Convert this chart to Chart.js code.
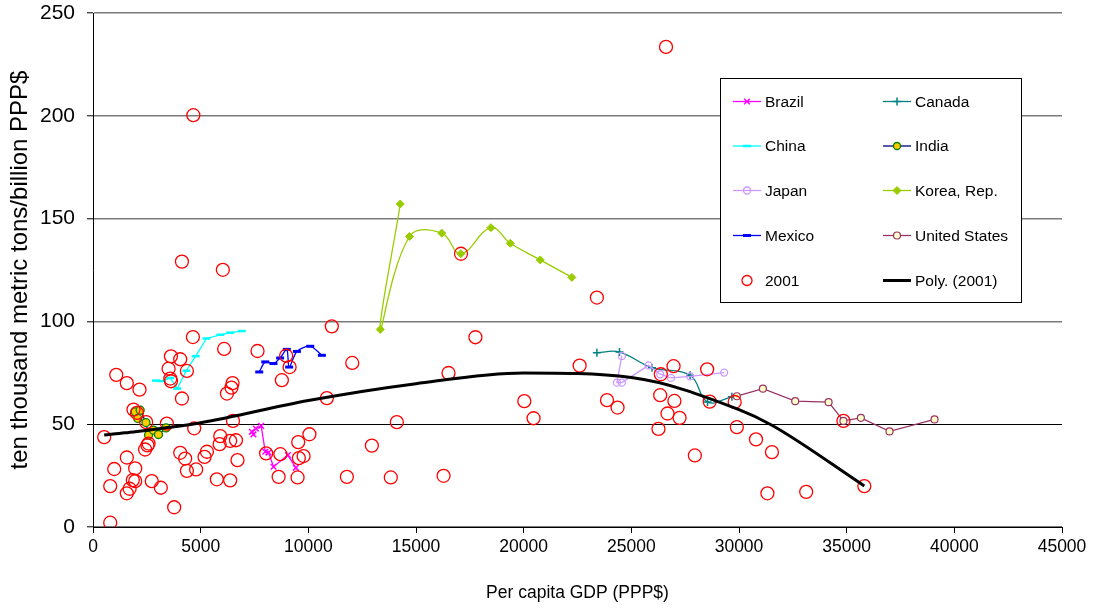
<!DOCTYPE html>
<html>
<head>
<meta charset="utf-8">
<script src="https://cdn.jsdelivr.net/npm/chart.js@4.4.1/dist/chart.umd.min.js"></script>
<style>
  html, body { margin: 0; padding: 0; background: #fff; }
  #wrap { width: 1097px; height: 610px; }
</style>
</head>
<body>
<div id="wrap"><canvas id="c" width="1097" height="610"></canvas></div>
<script>
// Country paths: per capita GDP (PPP$) vs. intensity (ten thousand metric tons / billion PPP$)
const brazilX = [7450, 7380, 7560, 7810, 8000, 8150, 8385, 9050, 9420];
const brazilY = [45, 46.3, 47.9, 49.2, 36.6, 36.2, 29.3, 35, 28.8];

const canadaX = [23400, 24450, 25960, 27730, 28540, 29670];
const canadaY = [84.8, 85.1, 77.5, 73.8, 60.8, 63.3];

const chinaX = [2920, 3200, 3590, 3910, 4330, 4770, 5270, 5910, 6370, 6910];
const chinaY = [71.2, 71, 72.5, 67.3, 76, 83.1, 91.7, 93.5, 94.5, 95.3];

const indiaX = [1960, 2080, 2190, 2460, 2580, 2810, 3040, 3390];
const indiaY = [56, 52.8, 56.8, 50.8, 44.7, 47.1, 45, 48.2];

const japanX = [24560, 24330, 24560, 25800, 26340, 26840, 27730, 29310];
const japanY = [83.2, 70.2, 70.2, 78.6, 74.3, 72.5, 73.3, 75.1];

const koreaX = [14270, 13340, 14700, 16200, 17080, 18480, 19380, 20770, 22240];
const koreaY = [157.1, 96.1, 141.3, 142.9, 132.9, 145.6, 138.0, 129.9, 121.4];

const mexicoX = [7720, 8000, 8380, 8690, 9000, 9110, 9470, 10090, 10630];
const mexicoY = [75.4, 80.3, 79.5, 82.2, 86.4, 77.8, 85.4, 87.9, 83.5];

const usX = [29900, 31110, 32610, 34160, 34850, 35660, 36990, 39080];
const usY = [63.6, 67.3, 61.2, 60.7, 51.6, 53.1, 46.5, 52.3];

// All countries, 2001
const y2001X = [520, 800, 800, 985, 1080, 1570, 1570, 1570, 1700, 1850,
  1960, 1960, 1880, 2040, 2160, 2470, 2530, 2420, 2730, 3150,
  3430, 3510, 3590, 3620, 3620, 3770, 4050, 4050, 4130, 4130,
  4280, 4360, 4360, 4640, 4660, 4700, 4790, 5180, 5290, 5750,
  5880, 5910, 6030, 6090, 6220, 6370, 6370, 6430, 6480, 6500,
  6640, 6710, 7640, 8040, 8620, 8700, 8770, 8970, 9130, 9500,
  9530, 9560, 9780, 10050, 10860, 11090, 11790, 12040, 12950, 13830,
  14110, 16280, 16510, 17090, 17760, 20030, 20460, 22600, 23400, 23870,
  24360, 26260, 26340, 26370, 26610, 26680, 26960, 27000, 27240, 27950,
  28520, 28640, 29800, 29900, 30790, 31320, 31530, 33120, 34850, 35820,
  2580];
const y2001Y = [43.7, 19.9, 2.1, 28.2, 74, 70, 33.8, 16.4, 18.6, 22.8,
  22.3, 28.5, 57.1, 55.5, 66.8, 51, 39.7, 37.7, 22.3, 19.1,
  50.3, 77, 72.2, 70.9, 83, 9.6, 81.6, 36.1, 62.5, 129.1,
  33.3, 75.9, 27.3, 92.4, 200.3, 48, 28, 34.1, 36.6, 23.2,
  40.3, 44.2, 125.1, 86.6, 64.9, 22.7, 41.9, 67.8, 70, 51.6,
  42.2, 32.5, 85.6, 35.8, 24.4, 35.4, 71.4, 83.3, 77.8, 24.1,
  41.3, 33.5, 34.5, 45.1, 62.7, 97.6, 24.4, 79.8, 39.6, 24.1,
  51, 24.9, 74.9, 132.9, 92.3, 61.2, 52.9, 78.5, 111.6, 61.7,
  58.1, 47.7, 64.1, 74.3, 233.5, 55.2, 78.2, 61.3, 53.1, 34.8,
  76.7, 61, 60.8, 48.6, 42.6, 16.4, 36.4, 17.1, 51.6, 19.9,
  40.6];

// Polynomial trend of the 2001 points
const polyX = [520, 1490, 5000, 10000, 15000, 20000, 25000, 30000, 31530, 35820];
const polyY = [44.7, 45.8, 50.7, 61.5, 69.7, 74.9, 72.7, 57.1, 49.5, 20];

// Axis ticks
const xTicks = [0, 5000, 10000, 15000, 20000, 25000, 30000, 35000, 40000, 45000];
const yTicks = [0, 50, 100, 150, 200, 250];

const pts = (xs, ys) => xs.map((x, i) => ({ x, y: ys[i] }));
const FONT = "'Liberation Sans', Arial, sans-serif";

const datasets = [
  { label: 'Brazil', data: pts(brazilX, brazilY), showLine: true, tension: 0,
    borderColor: '#FF00FF', borderWidth: 1.3, pointStyle: 'crossRot', pointRadius: 4,
    pointBorderColor: '#FF00FF', pointBorderWidth: 1.5, pointBackgroundColor: '#FF00FF', order: 9 },
  { label: 'Canada', data: pts(canadaX, canadaY), showLine: true, tension: 0.4,
    borderColor: '#008080', borderWidth: 1.3, pointStyle: 'cross', pointRadius: 4,
    pointBorderColor: '#008080', pointBorderWidth: 1.5, pointBackgroundColor: '#008080', order: 8 },
  { label: 'China', data: pts(chinaX, chinaY), showLine: true, tension: 0,
    borderColor: '#00FFFF', borderWidth: 1.3, pointStyle: 'line', pointRadius: 4,
    pointBorderColor: '#00FFFF', pointBorderWidth: 2.5, pointBackgroundColor: '#00FFFF', order: 7 },
  { label: 'India', data: pts(indiaX, indiaY), showLine: true, tension: 0,
    borderColor: '#000080', borderWidth: 1.3, pointStyle: 'circle', pointRadius: 4,
    pointBorderColor: '#008000', pointBorderWidth: 1.3, pointBackgroundColor: '#FFCC00', order: 6 },
  { label: 'Japan', data: pts(japanX, japanY), showLine: true, tension: 0,
    borderColor: '#CC99FF', borderWidth: 1.3, pointStyle: 'circle', pointRadius: 3.5,
    pointBorderColor: '#CC99FF', pointBorderWidth: 1.3, pointBackgroundColor: 'rgba(255,255,255,0)', order: 5 },
  { label: 'Korea, Rep.', data: pts(koreaX, koreaY), showLine: true, tension: 0.4,
    borderColor: '#99CC00', borderWidth: 1.3, pointStyle: 'rectRot', pointRadius: 4,
    pointBorderColor: '#99CC00', pointBorderWidth: 1, pointBackgroundColor: '#99CC00', order: 4 },
  { label: 'Mexico', data: pts(mexicoX, mexicoY), showLine: true, tension: 0.3,
    borderColor: '#0000FF', borderWidth: 1.3, pointStyle: 'line', pointRadius: 4,
    pointBorderColor: '#0000FF', pointBorderWidth: 3, pointBackgroundColor: '#0000FF', order: 3 },
  { label: 'United States', data: pts(usX, usY), showLine: true, tension: 0,
    borderColor: '#993366', borderWidth: 1.3, pointStyle: 'circle', pointRadius: 3.5,
    pointBorderColor: '#993366', pointBorderWidth: 1.2, pointBackgroundColor: '#FFFFCC', order: 2 },
  { label: '2001', data: pts(y2001X, y2001Y), showLine: false,
    pointStyle: 'circle', pointRadius: 6.5, pointBorderColor: '#FF0000', pointBorderWidth: 1.3,
    pointBackgroundColor: 'rgba(255,255,255,0)', borderColor: '#FF0000', order: 1,
    legendRadius: 5 },
  { label: 'Poly. (2001)', data: pts(polyX, polyY), showLine: true, cubicInterpolationMode: 'monotone',
    borderColor: '#000000', borderWidth: 3, pointRadius: 0, pointHoverRadius: 0, order: 0 }
];

// Two-column boxed legend inside the plot
const boxLegend = {
  id: 'boxLegend',
  afterDraw(chart) {
    const ctx = chart.ctx;
    const bx = 720.5, by = 78.5, bw = 301, bh = 224;
    ctx.save();
    ctx.fillStyle = '#fff';
    ctx.fillRect(bx, by, bw, bh);
    ctx.strokeStyle = '#000';
    ctx.lineWidth = 1;
    ctx.strokeRect(bx, by, bw, bh);
    const rowY = [101.5, 146, 190.5, 235.5, 280.5];
    const colX = [733, 883];
    chart.data.datasets.forEach((ds, i) => {
      const r = Math.floor(i / 2), c = i % 2;
      const x0 = colX[c], y = rowY[r], x1 = x0 + 28, xm = (x0 + x1) / 2;
      if (ds.showLine) {
        ctx.beginPath();
        ctx.strokeStyle = ds.borderColor;
        ctx.lineWidth = ds.borderWidth;
        ctx.moveTo(x0, y); ctx.lineTo(x1, y);
        ctx.stroke();
      }
      if (ds.pointRadius > 0) {
        ctx.strokeStyle = ds.pointBorderColor;
        ctx.fillStyle = ds.pointBackgroundColor;
        ctx.lineWidth = ds.pointBorderWidth;
        Chart.helpers.drawPoint(ctx, {
          pointStyle: ds.pointStyle,
          radius: ds.legendRadius || (ds.pointStyle === 'circle' ? 3.5 : ds.pointRadius),
          rotation: 0,
          borderWidth: ds.pointBorderWidth
        }, xm, y);
      }
      ctx.fillStyle = '#000';
      ctx.font = '15.5px ' + FONT;
      ctx.textAlign = 'left';
      ctx.textBaseline = 'middle';
      ctx.fillText(ds.label, x1 + 4, y + 1);
    });
    ctx.restore();
  }
};

new Chart(document.getElementById('c'), {
  type: 'scatter',
  data: { datasets },
  options: {
    responsive: false,
    animation: false,
    events: [],
    layout: { padding: { top: 13, right: 35, left: 0, bottom: 6 } },
    plugins: { legend: { display: false }, tooltip: { enabled: false } },
    scales: {
      x: {
        type: 'linear', min: 0, max: 45000,
        afterBuildTicks: s => { s.ticks = xTicks.map(v => ({ value: v })); },
        afterFit: s => { s.height = 77; s.paddingLeft = 0; s.paddingRight = 0; },
        ticks: { color: '#000', font: { family: FONT, size: 17.5 }, padding: 4,
                 maxRotation: 0, callback: v => String(v) },
        grid: { drawOnChartArea: false, drawTicks: true, tickLength: 6, color: '#000' },
        border: { display: true, color: '#000', width: 1 },
        title: { display: true, text: 'Per capita GDP (PPP$)', color: '#000',
                 font: { family: FONT, size: 17.5 }, padding: { top: 4, bottom: 0 } }
      },
      y: {
        type: 'linear', min: 0, max: 250,
        afterBuildTicks: s => { s.ticks = yTicks.map(v => ({ value: v })); },
        afterFit: s => { s.width = 93; s.paddingTop = 0; s.paddingBottom = 0; },
        ticks: { color: '#000', font: { family: FONT, size: 21 }, padding: 12,
                 callback: v => String(v) },
        grid: {
          drawTicks: true, tickLength: 6,
          color: c => (c.tick && c.tick.value === 50) ? '#000' : '#7a7a7a',
          lineWidth: c => (c.tick && c.tick.value === 50) ? 1 : 1.6,
          tickColor: '#000', tickWidth: 1
        },
        border: { display: true, color: '#000', width: 1 },
        title: { display: true, text: 'ten thousand metric tons/billion PPP$', color: '#000',
                 font: { family: FONT, size: 24 }, padding: { top: 6, bottom: 0 } }
      }
    }
  },
  plugins: [boxLegend]
});
</script>
</body>
</html>
